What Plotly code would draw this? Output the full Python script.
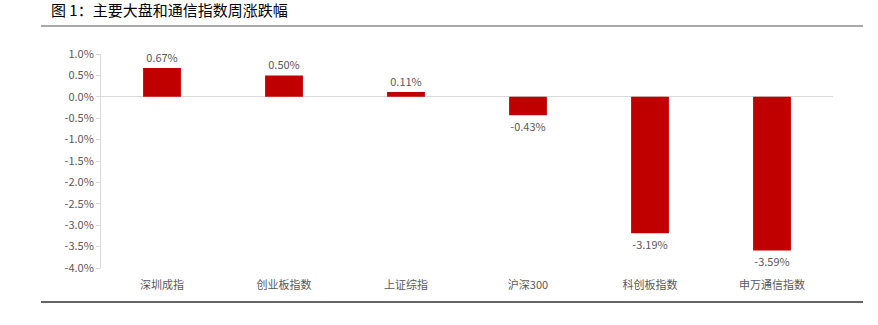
import plotly.graph_objects as go

categories = ["深圳成指", "创业板指数", "上证综指", "沪深300", "科创板指数", "申万通信指数"]
values = [0.67, 0.50, 0.11, -0.43, -3.19, -3.59]
tick_vals = [1.0, 0.5, 0.0, -0.5, -1.0, -1.5, -2.0, -2.5, -3.0, -3.5, -4.0]
tick_text = [f"{v:.1f}%" for v in tick_vals]
title_text = "图 1：主要大盘和通信指数周涨跌幅"

W, H = 878, 325
L, R, T, B = 101, 45, 54, 57
pw, ph = W - L - R, H - T - B

def px(x):
    return (x - L) / pw

def py(y):
    return (H - B - y) / ph

font = "Noto Sans CJK SC"

fig = go.Figure(go.Bar(
    x=categories, y=values,
    marker=dict(color="#C00000", line=dict(width=0)),
    text=[f"{v:.2f}%" for v in values],
    textposition="outside",
    textfont=dict(family=font, size=11, color="#595959"),
    cliponaxis=False,
))

fig.update_layout(
    width=W, height=H,
    margin=dict(l=L, r=R, t=T, b=B),
    paper_bgcolor="white", plot_bgcolor="white",
    bargap=0.69,
    showlegend=False,
    font=dict(family=font, size=11, color="#595959"),
    xaxis=dict(showline=False, showgrid=False, zeroline=False, ticks="",
               ticklabelstandoff=9,
               tickfont=dict(family=font, size=11, color="#595959")),
    yaxis=dict(range=[-4.0, 1.0], tickvals=tick_vals, ticktext=tick_text,
               showgrid=False, zeroline=True, zerolinecolor="#D9D9D9", zerolinewidth=1,
               showline=True, linecolor="#D9D9D9", linewidth=1,
               ticks="outside", ticklen=4, tickcolor="#D9D9D9",
               tickfont=dict(family=font, size=11, color="#595959")),
    annotations=[dict(text=title_text, xref="paper", yref="paper",
                      x=px(49), y=py(10), xanchor="left", yanchor="middle",
                      showarrow=False,
                      font=dict(family=font, size=15, color="#000000", weight=400))],
    shapes=[
        dict(type="line", xref="paper", yref="paper", x0=px(41), x1=px(863),
             y0=py(26), y1=py(26), line=dict(color="#8C8C8C", width=1.5)),
        dict(type="line", xref="paper", yref="paper", x0=px(41), x1=px(863),
             y0=py(302), y1=py(302), line=dict(color="#333333", width=1.5)),
    ],
)

fig.write_html("out.html")
